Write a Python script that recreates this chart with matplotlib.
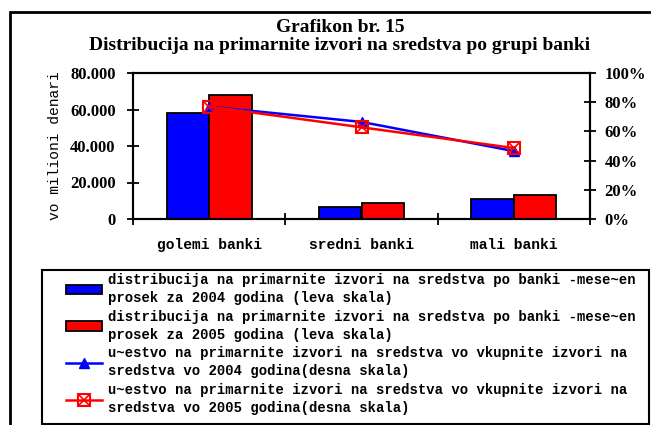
import matplotlib
matplotlib.use("Agg")
import matplotlib.pyplot as plt
import numpy as np
from matplotlib.patches import Rectangle
from matplotlib.ticker import FuncFormatter
from matplotlib.legend_handler import HandlerTuple

# --- data
categories = ["golemi banki", "sredni banki", "mali banki"]
dist_2004 = [57900, 6400, 10800]     # mil. denari (left scale)
dist_2005 = [67800, 8600, 13000]
share_2004 = [77.0, 66.5, 46.5]      # % (right scale)
share_2005 = [77.0, 62.8, 48.6]

lbl_bar04 = "distribucija na primarnite izvori na sredstva po banki -mese~en\nprosek za 2004 godina (leva skala)"
lbl_bar05 = "distribucija na primarnite izvori na sredstva po banki -mese~en\nprosek za 2005 godina (leva skala)"
lbl_ln04 = "u~estvo na primarnite izvori na sredstva vo vkupnite izvori na\nsredstva vo 2004 godina(desna skala)"
lbl_ln05 = "u~estvo na primarnite izvori na sredstva vo vkupnite izvori na\nsredstva vo 2005 godina(desna skala)"

plt.rcParams['font.family'] = 'Liberation Serif'
plt.rcParams['font.weight'] = 'bold'
mono = 'Liberation Mono'

W, H = 651, 425
fig = plt.figure(figsize=(W / 100, H / 100), dpi=100)
ax = fig.add_axes([133 / W, 1 - 219 / H, (590 - 133) / W, (219 - 73) / H])

x = np.arange(len(categories))
bw = 0.28
b1 = ax.bar(x - bw / 2, dist_2004, bw, color='#0000ff', edgecolor='black', linewidth=1.3)
b2 = ax.bar(x + bw / 2, dist_2005, bw, color='#ff0000', edgecolor='black', linewidth=1.3)

ax.set_xlim(-0.5, 2.5)
ax.set_ylim(0, 80000)
ax.set_yticks([0, 20000, 40000, 60000, 80000])
ax.yaxis.set_major_formatter(FuncFormatter(lambda v, p: f"{int(v):,}".replace(",", ".")))
ax.set_xticks([-0.5, 0.5, 1.5, 2.5])
ax.set_xticklabels([])
ax.set_xticks(x, minor=True)
ax.set_xticklabels(categories, minor=True, fontsize=10.5, family=mono)
ax.tick_params(axis='x', which='minor', length=0, pad=14)
ax.tick_params(axis='x', which='major', direction='inout', length=9, width=1.3)
ax.tick_params(axis='y', direction='inout', length=9, width=1.3, labelsize=12, pad=8)
ax.set_ylabel("vo milioni denari", fontsize=10.5, family=mono, labelpad=6)
for s in ax.spines.values():
    s.set_linewidth(1.5)

ax2 = ax.twinx()
ln1, = ax2.plot(x, share_2004, color='#0000ff', linewidth=1.8, marker='^', markersize=7)
ln2, = ax2.plot(x, share_2005, color='#ff0000', linewidth=1.8, marker='s', markersize=8,
                markerfacecolor='none', markeredgewidth=1.5)
ln2x, = ax2.plot(x, share_2005, linestyle='none', color='#ff0000', marker='x', markersize=8,
                 markeredgewidth=1.2)
ax2.set_ylim(0, 100)
ax2.set_yticks([0, 20, 40, 60, 80, 100])
ax2.yaxis.set_major_formatter(FuncFormatter(lambda v, p: f"{int(v)}%"))
ax2.tick_params(axis='y', direction='inout', length=9, width=1.3, labelsize=12, pad=6)
for s in ax2.spines.values():
    s.set_linewidth(1.5)

fig.text(340 / W, 1 - 27 / H, "Grafikon br. 15", ha='center', va='center', fontsize=14)
fig.text(340 / W, 1 - 46 / H, "Distribucija na primarnite izvori na sredstva po grupi banki",
         ha='center', va='center', fontsize=14)

# outer frame
fig.patches.append(Rectangle((10 / W, -0.1), 1.2, 1 - 12 / H + 0.1, transform=fig.transFigure,
                             fill=False, edgecolor='black', linewidth=2, clip_on=False))
# legend frame
fig.patches.append(Rectangle((42 / W, 1 - 424 / H), (649 - 42) / W, (424 - 270) / H,
                             transform=fig.transFigure, fill=False, edgecolor='black',
                             linewidth=1.5, clip_on=False))

leg = fig.legend([b1, b2, ln1, (ln2, ln2x)], [lbl_bar04, lbl_bar05, lbl_ln04, lbl_ln05],
                 loc='upper left', bbox_to_anchor=(66 / W, 1 - 273 / H),
                 borderaxespad=0, borderpad=0, frameon=False,
                 prop={'family': mono, 'weight': 'bold', 'size': 10},
                 handlelength=2.6, handleheight=0.7, handletextpad=0.43, labelspacing=0.34,
                 handler_map={tuple: HandlerTuple(ndivide=1)})
for t in leg.get_texts():
    t.set_linespacing(1.36)

fig.savefig("out.png", dpi=100)
